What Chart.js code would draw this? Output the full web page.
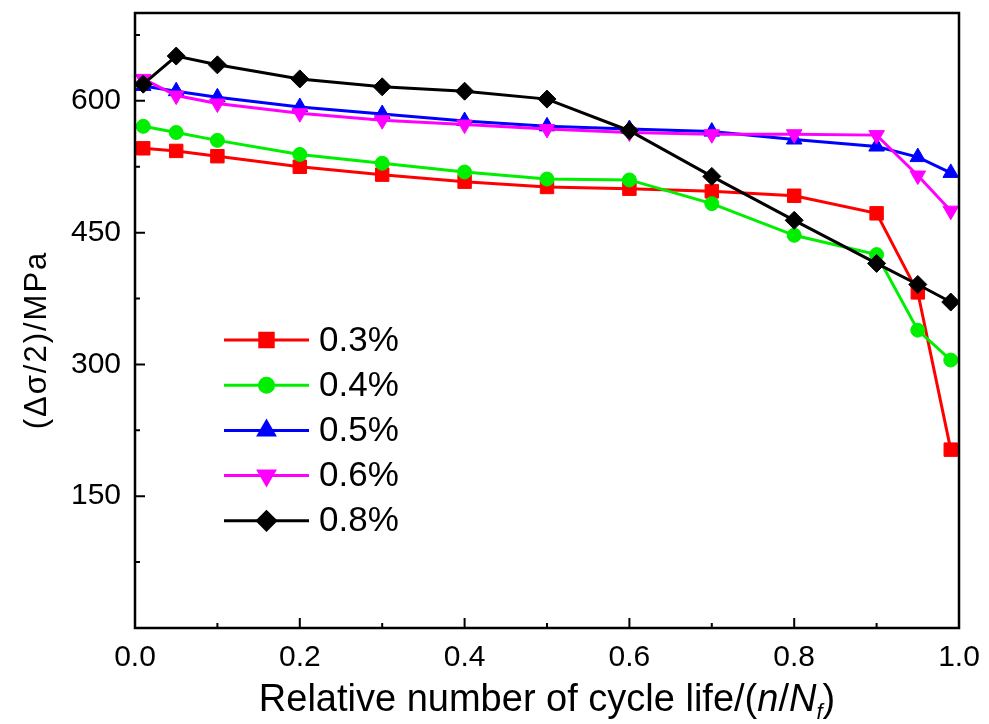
<!DOCTYPE html>
<html>
<head>
<meta charset="utf-8">
<script src="https://cdn.jsdelivr.net/npm/chart.js@4/dist/chart.umd.min.js"></script>
<style>
  html, body { margin: 0; padding: 0; background: #fff; }
  canvas { display: block; }
</style>
</head>
<body>
<canvas id="cyclicStress" width="989" height="724"></canvas>
<script>
// relative cycle life n/Nf
const lifeFraction = [0.01, 0.05, 0.1, 0.2, 0.3, 0.4, 0.5, 0.6, 0.7, 0.8, 0.9, 0.95, 0.99];

// stress amplitude (MPa) per strain amplitude
const amp03 = [546, 543, 537, 525, 516, 508, 502, 500, 497, 492, 472, 382, 203];
const amp04 = [571, 564, 555, 539, 529, 519, 511, 510, 483, 447, 425, 339, 305];
const amp05 = [617, 611, 604, 593, 585, 577, 571, 568, 565, 556, 548, 536, 518];
const amp06 = [625, 606, 597, 586, 578, 573, 568, 564, 562, 562, 561, 515, 475];
const amp08 = [619, 651, 641, 625, 616, 611, 602, 566, 514, 464, 415, 391, 371];

const seriesLabels = ['0.3%', '0.4%', '0.5%', '0.6%', '0.8%'];
const seriesValues = [amp03, amp04, amp05, amp06, amp08];

const xMajorTicks = [0, 0.2, 0.4, 0.6, 0.8, 1.0];
const xMinorTicks = [0.1, 0.3, 0.5, 0.7, 0.9];
const yMajorTicks = [0, 150, 300, 450, 600];
const yMinorTicks = [75, 225, 375, 525, 675];

const FONT = '"Liberation Sans", Arial, sans-serif';

// marker look per series
const styles = [
    { color: '#ff0000', point: 'rect',     radius: 9.5, rotation: 0 },
    { color: '#00ee00', point: 'circle',   radius: 7,   rotation: 0 },
    { color: '#0000ff', point: 'triangle', radius: 9,   rotation: 0 },
    { color: '#ff00ff', point: 'triangle', radius: 9,   rotation: 180 },
    { color: '#000000', point: 'rectRot',  radius: 9,   rotation: 0 }
];

const datasets = seriesValues.map((vals, i) => ({
    label: seriesLabels[i],
    data: vals.map((v, j) => ({ x: lifeFraction[j], y: v })),
    borderColor: styles[i].color,
    backgroundColor: styles[i].color,
    borderWidth: 3,
    pointStyle: styles[i].point,
    pointRadius: styles[i].radius,
    pointRotation: styles[i].rotation,
    pointBorderWidth: 1,
    pointBorderColor: styles[i].color,
    pointBackgroundColor: styles[i].color,
    tension: 0,
    order: seriesValues.length - i
}));

// frame, inward ticks, axis titles and the legend
const originLook = {
    id: 'originLook',
    afterDraw(chart) {
        const { ctx, chartArea: a, scales } = chart;
        const xs = scales.x, ys = scales.y;
        ctx.save();
        ctx.strokeStyle = '#000';
        ctx.lineWidth = 2.5;
        ctx.strokeRect(a.left, a.top, a.right - a.left, a.bottom - a.top);

        ctx.lineWidth = 2;
        ctx.beginPath();
        xMajorTicks.forEach(v => {
            const px = xs.getPixelForValue(v);
            ctx.moveTo(px, a.bottom); ctx.lineTo(px, a.bottom - 10);
        });
        xMinorTicks.forEach(v => {
            const px = xs.getPixelForValue(v);
            ctx.moveTo(px, a.bottom); ctx.lineTo(px, a.bottom - 5);
        });
        yMajorTicks.forEach(v => {
            const py = ys.getPixelForValue(v);
            ctx.moveTo(a.left, py); ctx.lineTo(a.left + 10, py);
        });
        yMinorTicks.forEach(v => {
            const py = ys.getPixelForValue(v);
            ctx.moveTo(a.left, py); ctx.lineTo(a.left + 5, py);
        });
        ctx.stroke();

        // x title with italic n/N and subscript f
        ctx.fillStyle = '#000';
        ctx.textBaseline = 'alphabetic';
        ctx.textAlign = 'left';
        const parts = [
            { t: 'Relative number of cycle life/(', f: '38px ' + FONT, dy: 0 },
            { t: 'n', f: 'italic 38px ' + FONT, dy: 0 },
            { t: '/', f: '38px ' + FONT, dy: 0 },
            { t: 'N', f: 'italic 38px ' + FONT, dy: 0 },
            { t: 'f', f: 'italic 22px ' + FONT, dy: 8 },
            { t: ')', f: '38px ' + FONT, dy: 0 }
        ];
        let total = 0;
        parts.forEach(p => { ctx.font = p.f; p.w = ctx.measureText(p.t).width; total += p.w; });
        let tx = (a.left + a.right) / 2 - total / 2;
        parts.forEach(p => { ctx.font = p.f; ctx.fillText(p.t, tx, 711 + p.dy); tx += p.w; });

        // y title
        ctx.save();
        ctx.translate(46, 340);
        ctx.rotate(-Math.PI / 2);
        ctx.font = '31px ' + FONT;
        ctx.letterSpacing = '2px';
        ctx.textAlign = 'center';
        ctx.fillText('(\u0394\u03c3/2)/MPa', 0, 0);
        ctx.restore();

        // legend: line with marker, then label
        ctx.font = '35px ' + FONT;
        ctx.textBaseline = 'middle';
        ctx.textAlign = 'left';
        seriesLabels.forEach((lab, i) => {
            const y = 340 + i * 45.2;
            const st = styles[i];
            ctx.strokeStyle = st.color;
            ctx.fillStyle = st.color;
            ctx.lineWidth = 3;
            ctx.beginPath();
            ctx.moveTo(224, y); ctx.lineTo(309, y);
            ctx.stroke();
            Chart.helpers.drawPoint(ctx, {
                pointStyle: st.point, radius: st.radius, rotation: st.rotation, borderWidth: 1
            }, 266.5, y);
            ctx.fillStyle = '#000';
            ctx.fillText(lab, 319, y + 1);
        });
        ctx.restore();
    }
};

new Chart(document.getElementById('cyclicStress').getContext('2d'), {
    type: 'line',
    data: { datasets },
    options: {
        responsive: false,
        animation: false,
        devicePixelRatio: 1,
        layout: { padding: { top: 13, right: 30, bottom: 0, left: 0 } },
        plugins: {
            legend: { display: false },
            tooltip: { enabled: false }
        },
        scales: {
            x: {
                type: 'linear',
                min: 0,
                max: 1,
                afterBuildTicks: s => { s.ticks = xMajorTicks.map(v => ({ value: v })); },
                afterFit: s => { s.height = 96; s.paddingLeft = 0; s.paddingRight = 0; },
                grid: { display: false, drawTicks: false },
                border: { display: false },
                ticks: {
                    color: '#000',
                    padding: 12,
                    maxRotation: 0,
                    font: { family: FONT, size: 30 },
                    callback: v => v.toFixed(1)
                }
            },
            y: {
                type: 'linear',
                min: 0,
                max: 700,
                afterBuildTicks: s => { s.ticks = yMajorTicks.map(v => ({ value: v })); },
                afterFit: s => { s.width = 135; s.paddingTop = 0; s.paddingBottom = 0; },
                grid: { display: false, drawTicks: false },
                border: { display: false },
                ticks: {
                    color: '#000',
                    padding: 14,
                    font: { family: FONT, size: 30 },
                    callback: v => (v === 0 ? '' : String(v))
                }
            }
        }
    },
    plugins: [originLook]
});
</script>
</body>
</html>
